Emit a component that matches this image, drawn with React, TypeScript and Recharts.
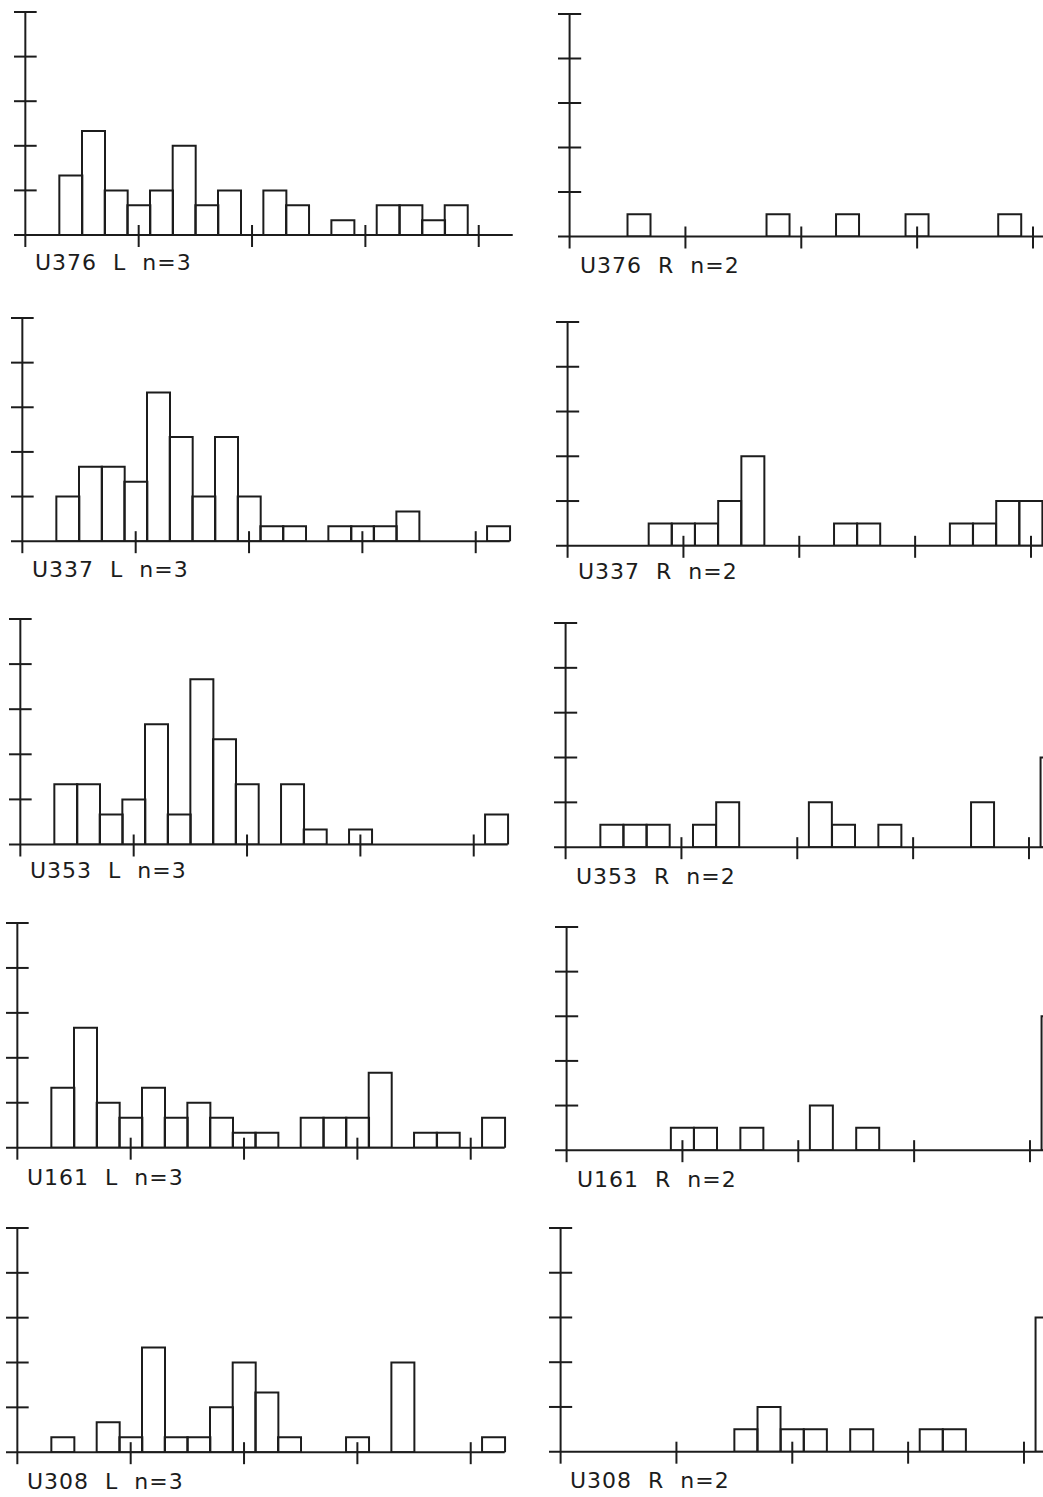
import { BarChart, Bar, XAxis, YAxis, ReferenceLine } from "recharts";

// bins along the x axis (tick marks every 5th bin)
const bins = [0, 1, 2, 3, 4, 5, 6, 7, 8, 9, 10, 11, 12, 13, 14, 15, 16, 17, 18, 19, 20, 21];
const xTicks = [5, 10, 15, 20];

// y ticks: left column one tick = 3 counts, right column one tick = 2 counts
const leftTicks = [3, 6, 9, 12, 15];
const rightTicks = [2, 4, 6, 8, 10];

const u376L = [0, 0, 4, 7, 3, 2, 3, 6, 2, 3, 0, 3, 2, 0, 1, 0, 2, 2, 1, 2, 0, 0];
const u337L = [0, 0, 3, 5, 5, 4, 10, 7, 3, 7, 3, 1, 1, 0, 1, 1, 1, 2, 0, 0, 0, 1];
const u353L = [0, 0, 4, 4, 2, 3, 8, 2, 11, 7, 4, 0, 4, 1, 0, 1, 0, 0, 0, 0, 0, 2];
const u161L = [0, 0, 4, 8, 3, 2, 4, 2, 3, 2, 1, 1, 0, 2, 2, 2, 5, 0, 1, 1, 0, 2];
const u308L = [0, 0, 1, 0, 2, 1, 7, 1, 1, 3, 6, 4, 1, 0, 0, 1, 0, 6, 0, 0, 0, 1];

const u376R = [0, 0, 0, 1, 0, 0, 0, 0, 0, 1, 0, 0, 1, 0, 0, 1, 0, 0, 0, 1, 0, 0];
const u337R = [0, 0, 0, 0, 1, 1, 1, 2, 4, 0, 0, 0, 1, 1, 0, 0, 0, 1, 1, 2, 2, 0];
const u353R = [0, 0, 1, 1, 1, 0, 1, 2, 0, 0, 0, 2, 1, 0, 1, 0, 0, 0, 2, 0, 0, 4];
const u161R = [0, 0, 0, 0, 0, 1, 1, 0, 1, 0, 0, 2, 0, 1, 0, 0, 0, 0, 0, 0, 0, 6];
const u308R = [0, 0, 0, 0, 0, 0, 0, 0, 1, 2, 1, 1, 0, 1, 0, 0, 1, 1, 0, 0, 0, 6];

const INK = "#1c1c1c";

// page layout of each panel: y-axis x, top tick y, baseline y, bin width, label spot
const panels = [
  { label: "U376 L n=3", values: u376L, ticks: leftTicks, bw: 22.67, axisX: 25, topY: 12, baseY: 235, lx: 35, ly: 252 },
  { label: "U376 R n=2", values: u376R, ticks: rightTicks, bw: 23.17, axisX: 569.3, topY: 14, baseY: 236.5, lx: 580, ly: 255 },
  { label: "U337 L n=3", values: u337L, ticks: leftTicks, bw: 22.67, axisX: 22.3, topY: 318.3, baseY: 541.5, lx: 32, ly: 559 },
  { label: "U337 R n=2", values: u337R, ticks: rightTicks, bw: 23.17, axisX: 567.7, topY: 321.7, baseY: 545.5, lx: 578, ly: 561 },
  { label: "U353 L n=3", values: u353L, ticks: leftTicks, bw: 22.67, axisX: 20, topY: 619, baseY: 844.5, lx: 30, ly: 860 },
  { label: "U353 R n=2", values: u353R, ticks: rightTicks, bw: 23.17, axisX: 566, topY: 623.3, baseY: 847.5, lx: 576, ly: 865.5 },
  { label: "U161 L n=3", values: u161L, ticks: leftTicks, bw: 22.67, axisX: 17.3, topY: 923.3, baseY: 1148, lx: 27, ly: 1167 },
  { label: "U161 R n=2", values: u161R, ticks: rightTicks, bw: 23.17, axisX: 566.7, topY: 927.3, baseY: 1150.5, lx: 577, ly: 1169 },
  { label: "U308 L n=3", values: u308L, ticks: leftTicks, bw: 22.67, axisX: 17.3, topY: 1228.3, baseY: 1452.5, lx: 27, ly: 1471 },
  { label: "U308 R n=2", values: u308R, ticks: rightTicks, bw: 23.17, axisX: 560.7, topY: 1228.3, baseY: 1452, lx: 570, ly: 1469.5 },
];

type PanelProps = (typeof panels)[number];

function Panel({ label, values, ticks, bw, axisX, topY, baseY, lx, ly }: PanelProps) {
  const m = { top: 4, right: 4, bottom: 18, left: 4 };
  const plotW = bw * bins.length;
  const plotH = baseY - topY;
  const yMax = ticks[ticks.length - 1];
  const unit = plotH / yMax;
  const below = 12 / unit;
  const above = 10 / unit;
  const data = bins.map((b, i) => ({ bin: b, v: values[i] }));
  const line = { stroke: INK, strokeWidth: 2, ifOverflow: "visible" as const };

  return (
    <>
      <div style={{ position: "absolute", left: axisX - bw / 2 - m.left, top: topY - m.top }}>
        <BarChart
          width={m.left + plotW + m.right}
          height={m.top + plotH + m.bottom}
          data={data}
          margin={m}
          barCategoryGap={0}
          barGap={0}
        >
          <XAxis xAxisId="c" dataKey="bin" hide />
          <XAxis xAxisId="n" dataKey="bin" type="number" domain={[-0.5, 21.5]} allowDataOverflow hide />
          <YAxis type="number" domain={[0, yMax]} allowDataOverflow hide />
          <Bar
            xAxisId="c"
            dataKey="v"
            fill="none"
            stroke={INK}
            strokeWidth={2}
            isAnimationActive={false}
          />
          <ReferenceLine xAxisId="n" y={0} {...line} />
          <ReferenceLine xAxisId="n" segment={[{ x: 0, y: -below }, { x: 0, y: yMax }]} {...line} />
          {ticks.map((t) => (
            <ReferenceLine key={`y${t}`} xAxisId="n" segment={[{ x: -0.5, y: t }, { x: 0.5, y: t }]} {...line} />
          ))}
          {xTicks.map((t) => (
            <ReferenceLine key={`x${t}`} xAxisId="n" segment={[{ x: t, y: -below }, { x: t, y: above }]} {...line} />
          ))}
        </BarChart>
      </div>
      <div
        style={{
          position: "absolute",
          left: lx,
          top: ly,
          fontFamily: "'DejaVu Sans', sans-serif",
          fontSize: 22,
          lineHeight: "22px",
          letterSpacing: 1,
          wordSpacing: 8,
          whiteSpace: "pre",
          color: INK,
        }}
      >
        {label}
      </div>
    </>
  );
}

export default function App() {
  return (
    <div
      style={{
        position: "absolute",
        left: 0,
        top: 0,
        width: 1043,
        height: 1497,
        overflow: "hidden",
        background: "#fff",
      }}
    >
      {panels.map((p) => (
        <Panel key={p.label} {...p} />
      ))}
    </div>
  );
}
